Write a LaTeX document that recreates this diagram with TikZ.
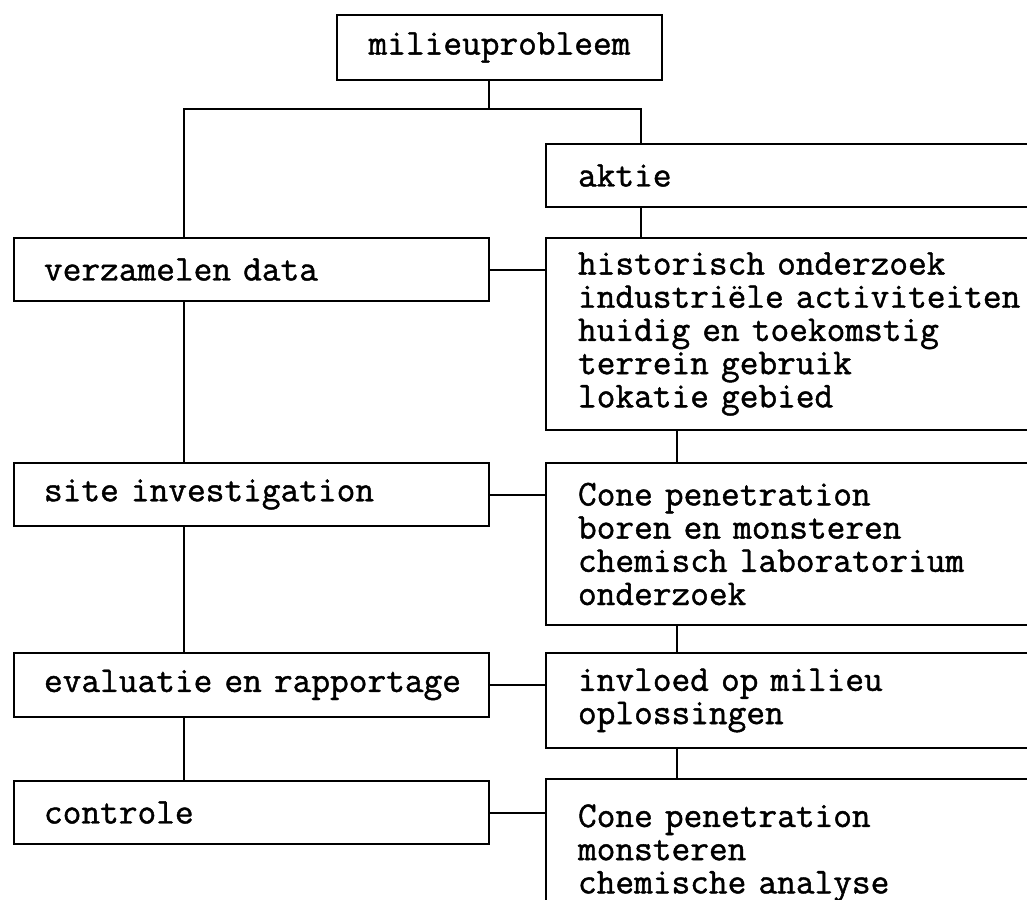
\documentclass[tikz,border=0pt]{standalone}
\usepackage{fontspec}
\usepackage{tikz}
\usetikzlibrary{positioning}
\newfontfamily\boxfont{Latin Modern Mono}[FakeBold=1.2, WordSpace={1,0,0}]

\begin{document}
\begin{tikzpicture}[x=0.5pt, y=-0.5pt, line width=1pt,
  every node/.style={font=\boxfont\fontsize{18.16pt}{16.6pt}\selectfont},
  topbox/.style={draw, rectangle, anchor=north west, inner sep=0pt, minimum width=162.5pt, minimum height=32.5pt},
  leftbox/.style={draw, rectangle, anchor=north west, inner sep=0pt, align=left, text width=237.5pt,
    execute at begin node={\leftskip=15pt}},
  rightbox/.style={draw, rectangle, anchor=north west, inner sep=0pt, align=left, text width=260pt,
    execute at begin node={\leftskip=16pt}}]

  \clip (0,0) rectangle (1027,899);

  \node[topbox] (milieu) at (336,14) {milieuprobleem};

  \node[rightbox, minimum height=31.5pt] (aktie) at (545,143) {aktie};

  \node[leftbox, minimum height=31.5pt] (verzamelen) at (13,237) {verzamelen data};
  \node[rightbox, minimum height=96pt] (historisch) at (545,237)
    {historisch onderzoek\\industriële activiteiten\\huidig en toekomstig\\terrein gebruik\\lokatie gebied};

  \node[leftbox, minimum height=31.5pt] (site) at (13,462) {site investigation};
  \node[rightbox, minimum height=81pt] (cone) at (545,462)
    {Cone penetration\\boren en monsteren\\chemisch laboratorium\\onderzoek};

  \node[leftbox, minimum height=32pt] (evaluatie) at (13,652) {evaluatie en rapportage};
  \node[rightbox, minimum height=47.5pt] (invloed) at (545,652)
    {invloed op milieu\\oplossingen};

  \node[leftbox, minimum height=31.5pt] (controle) at (13,780) {controle};
  \node[rightbox, minimum height=74pt] (controle-r) at (545,778)
    {Cone penetration\\monsteren\\chemische analyse};

  % stammen
  \coordinate (fork) at (489,109);
  \coordinate (ltrunk) at (184,109);
  \coordinate (rtrunk) at (641,109);
  \coordinate (rtrunk2) at (677,0);

  \draw (milieu.south -| fork) -- (fork);
  \draw (verzamelen.north -| ltrunk) |- (rtrunk) -- (aktie.north -| rtrunk);
  \draw (aktie.south -| rtrunk) -- (historisch.north -| rtrunk);

  \draw (verzamelen.south -| ltrunk) -- (site.north -| ltrunk);
  \draw (site.south -| ltrunk) -- (evaluatie.north -| ltrunk);
  \draw (evaluatie.south -| ltrunk) -- (controle.north -| ltrunk);

  \draw (historisch.south -| rtrunk2) -- (cone.north -| rtrunk2);
  \draw (cone.south -| rtrunk2) -- (invloed.north -| rtrunk2);
  \draw (invloed.south -| rtrunk2) -- (controle-r.north -| rtrunk2);

  % dwarsverbindingen
  \draw (verzamelen.east) -- (verzamelen.east -| historisch.west);
  \draw (site.east) -- (site.east -| cone.west);
  \draw (evaluatie.east) -- (evaluatie.east -| invloed.west);
  \draw (controle.east) -- (controle.east -| controle-r.west);
\end{tikzpicture}
\end{document}
